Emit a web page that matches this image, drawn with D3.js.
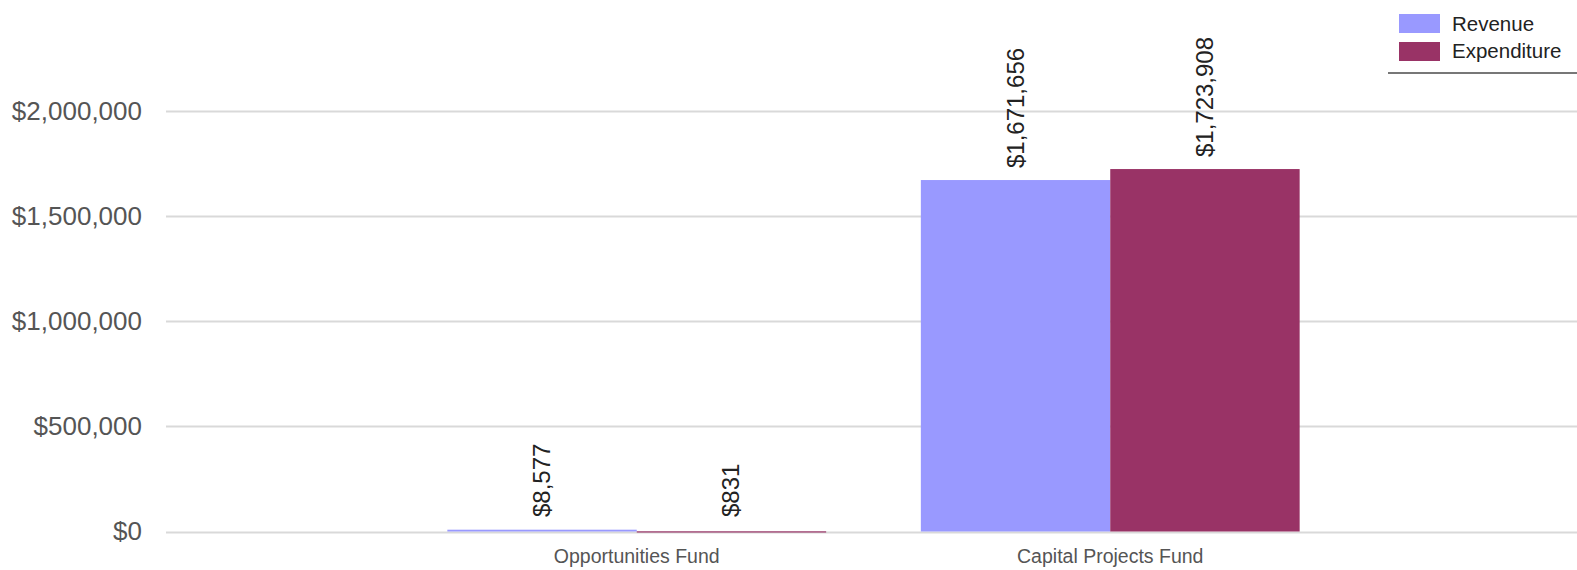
<!DOCTYPE html>
<html><head><meta charset="utf-8">
<script src="https://cdn.jsdelivr.net/npm/d3@7"></script>
<style>
html,body{margin:0;padding:0;background:#fff;}
svg{display:block;font-family:"Liberation Sans",Arial,Helvetica,sans-serif;}
</style></head>
<body>
<svg id="chart" width="1577" height="570"></svg>
<script>
const categories = ["Opportunities Fund", "Capital Projects Fund"];
const seriesNames = ["Revenue", "Expenditure"];
const revenue = [8577, 1671656];
const expenditure = [831, 1723908];
const yTicks = [0, 500000, 1000000, 1500000, 2000000];
const colors = ["#9999ff", "#993366"];

const svg = d3.select("#chart");
const W = 1577;
const gridLeft = 166, gridRight = W;
const y = d3.scaleLinear().domain([0, 2000000]).range([531.5, 111]);
const x = d3.scaleBand().domain(categories).range([400, 1347]).paddingInner(0.2).paddingOuter(0.1);
const xs = d3.scaleBand().domain(seriesNames).range([0, x.bandwidth()]);
const fmt = v => "$" + d3.format(",")(v);

// gridlines
svg.append("g").selectAll("line").data(yTicks).join("line")
  .attr("x1", gridLeft).attr("x2", gridRight)
  .attr("y1", d => Math.round(y(d)) + 0.5).attr("y2", d => Math.round(y(d)) + 0.5)
  .attr("stroke", "#d9d9d9").attr("stroke-width", 2);

// y axis labels
const yAxis = d3.axisLeft(y).tickValues(yTicks).tickFormat(fmt).tickSize(0).tickPadding(0);
const ga = svg.append("g").attr("transform", "translate(142,0)").call(yAxis);
ga.select(".domain").remove();
ga.selectAll("text").attr("font-size", 26).attr("fill", "#555").attr("font-family", "Liberation Sans, Arial, sans-serif");

// bars
const data = categories.map((c, i) => ({cat: c, vals: [revenue[i], expenditure[i]]}));
const groups = svg.append("g").selectAll("g").data(data).join("g")
  .attr("transform", d => `translate(${x(d.cat)},0)`);
groups.selectAll("rect").data(d => d.vals.map((v, j) => ({v, s: seriesNames[j], j}))).join("rect")
  .attr("x", d => xs(d.s)).attr("width", xs.bandwidth())
  .attr("y", d => y(d.v)).attr("height", d => Math.max(y(0) - y(d.v), 1.2))
  .attr("fill", d => colors[d.j]);
groups.selectAll("text.val").data(d => d.vals.map((v, j) => ({v, s: seriesNames[j], j}))).join("text")
  .attr("class", "val")
  .attr("transform", d => `translate(${xs(d.s) + xs.bandwidth() / 2 + 8},${Math.min(y(d.v), 529) - 12}) rotate(-90)`)
  .attr("font-size", 24).attr("fill", "#222")
  .text(d => fmt(d.v));

// category labels
svg.append("g").selectAll("text").data(categories).join("text")
  .attr("x", d => x(d) + x.bandwidth() / 2).attr("y", 563)
  .attr("text-anchor", "middle").attr("font-size", 19.5).attr("fill", "#555")
  .text(d => d);

// legend
const lg = svg.append("g");
seriesNames.forEach((s, i) => {
  lg.append("rect").attr("x", 1399).attr("y", 14 + i * 28).attr("width", 41).attr("height", 19).attr("fill", colors[i]);
  lg.append("text").attr("x", 1452).attr("y", 31 + i * 27).attr("font-size", 20.5).attr("fill", "#222").text(s);
});
lg.append("line").attr("x1", 1388).attr("x2", W).attr("y1", 73).attr("y2", 73).attr("stroke", "#777").attr("stroke-width", 2);
</script>
</body></html>
